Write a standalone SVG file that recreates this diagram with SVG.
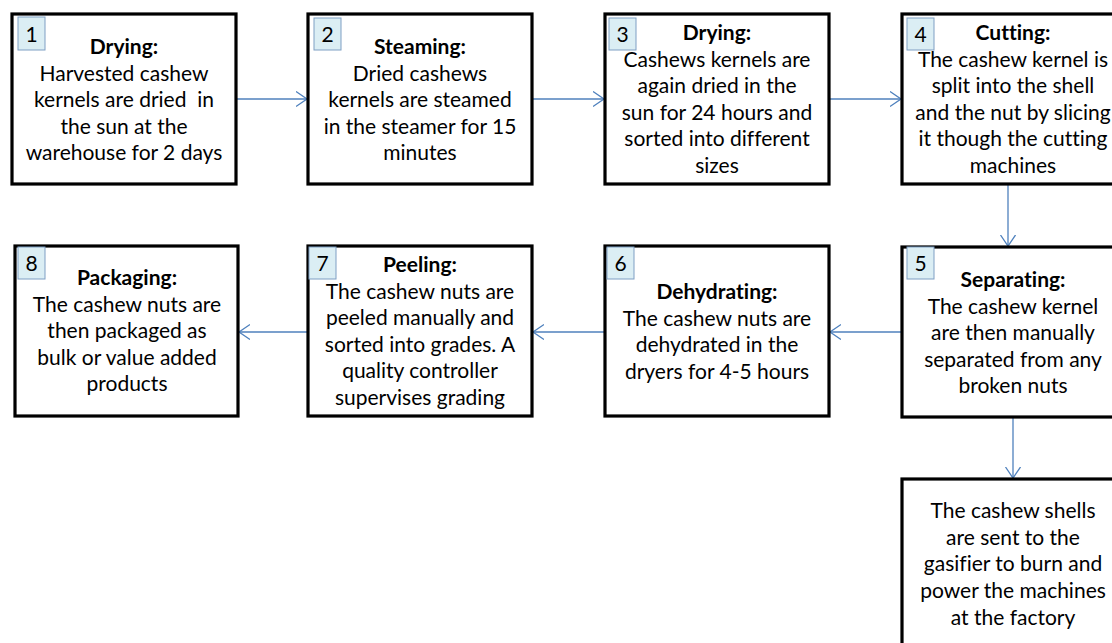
<svg xmlns="http://www.w3.org/2000/svg" width="1112" height="643" viewBox="0 0 1112 643">
<defs>
<marker id="ah" markerUnits="userSpaceOnUse" markerWidth="14" markerHeight="18" refX="11" refY="8" orient="auto">
<path d="M0,0.5 L11,8 L0,15.5" fill="none" stroke="#4F81BD" stroke-width="1.3"/>
</marker>
<style>
.box{fill:#fff;stroke:#000;stroke-width:3.2}
.num{fill:#DBEEF4;stroke:#7F9FC4;stroke-width:1}
.n{font-family:Lato,"Liberation Sans",sans-serif;font-size:21px;fill:#000;text-anchor:middle}
.t{font-family:Lato,"Liberation Sans",sans-serif;font-size:21px;fill:#000;text-anchor:middle;font-variant-ligatures:none;font-feature-settings:"liga" 0,"dlig" 0,"clig" 0}
.b{font-weight:bold}
.c{fill:none;stroke:#4F81BD;stroke-width:1.3;marker-end:url(#ah)}
</style>
</defs>
<rect width="1112" height="643" fill="#fff"/>
<g id="connectors">
<line class="c" x1="236" y1="99" x2="307" y2="99"/>
<line class="c" x1="532" y1="99" x2="604" y2="99"/>
<line class="c" x1="829" y1="99" x2="901" y2="99"/>
<line class="c" x1="1008" y1="184" x2="1008" y2="246"/>
<line class="c" x1="902" y1="332" x2="830" y2="332"/>
<line class="c" x1="605" y1="332" x2="533" y2="332"/>
<line class="c" x1="308" y1="332" x2="239" y2="332"/>
<line class="c" x1="1013" y1="417" x2="1013" y2="478"/>
</g>
<g id="node1">
<rect class="box" x="12" y="14" width="224" height="170"/>
<rect class="num" x="18" y="17" width="27" height="33"/>
<text class="n" x="31.5" y="42">1</text>
<text class="t"><tspan class="b" x="124" y="54">Drying:</tspan><tspan x="124" y="80.5">Harvested cashew</tspan><tspan x="124" y="107" xml:space="preserve">kernels are dried  in</tspan><tspan x="124" y="133.5">the sun at the</tspan><tspan x="124" y="160">warehouse for 2 days</tspan></text>
</g>
<g id="node2">
<rect class="box" x="308" y="14" width="224" height="170"/>
<rect class="num" x="314" y="18" width="27" height="32"/>
<text class="n" x="327.5" y="42">2</text>
<text class="t"><tspan class="b" x="420" y="54">Steaming:</tspan><tspan x="420" y="80.5">Dried cashews</tspan><tspan x="420" y="107">kernels are steamed</tspan><tspan x="420" y="133.5">in the steamer for 15</tspan><tspan x="420" y="160">minutes</tspan></text>
</g>
<g id="node3">
<rect class="box" x="605" y="14" width="224" height="170"/>
<rect class="num" x="609" y="18" width="27" height="32"/>
<text class="n" x="622.5" y="42">3</text>
<text class="t"><tspan class="b" x="717" y="40">Drying:</tspan><tspan x="717" y="66.6">Cashews kernels are</tspan><tspan x="717" y="93.2">again dried in the</tspan><tspan x="717" y="119.8">sun for 24 hours and</tspan><tspan x="717" y="146.4">sorted into different</tspan><tspan x="717" y="173">sizes</tspan></text>
</g>
<g id="node4">
<rect class="box" x="902" y="14" width="224" height="170"/>
<rect class="num" x="907" y="18" width="27" height="32"/>
<text class="n" x="920.5" y="42">4</text>
<text class="t"><tspan class="b" x="1013" y="40">Cutting:</tspan><tspan x="1013" y="66.6">The cashew kernel is</tspan><tspan x="1013" y="93.2">split into the shell</tspan><tspan x="1013" y="119.8">and the nut by slicing</tspan><tspan x="1013" y="146.4">it though the cutting</tspan><tspan x="1013" y="173">machines</tspan></text>
</g>
<g id="node5">
<rect class="box" x="902" y="247" width="224" height="170"/>
<rect class="num" x="907" y="247" width="27" height="32"/>
<text class="n" x="920.5" y="271">5</text>
<text class="t"><tspan class="b" x="1013" y="287">Separating:</tspan><tspan x="1013" y="313.5">The cashew kernel</tspan><tspan x="1013" y="340">are then manually</tspan><tspan x="1013" y="366.5">separated from any</tspan><tspan x="1013" y="393">broken nuts</tspan></text>
</g>
<g id="node6">
<rect class="box" x="605" y="246" width="224" height="170"/>
<rect class="num" x="607" y="247" width="27" height="32"/>
<text class="n" x="620.5" y="271">6</text>
<text class="t"><tspan class="b" x="717" y="299">Dehydrating:</tspan><tspan x="717" y="325.5">The cashew nuts are</tspan><tspan x="717" y="352">dehydrated in the</tspan><tspan x="717" y="378.5">dryers for 4-5 hours</tspan></text>
</g>
<g id="node7">
<rect class="box" x="308" y="246" width="224" height="170"/>
<rect class="num" x="309" y="247" width="27" height="32"/>
<text class="n" x="322.5" y="271">7</text>
<text class="t"><tspan class="b" x="420" y="272">Peeling:</tspan><tspan x="420" y="298.6">The cashew nuts are</tspan><tspan x="420" y="325.2">peeled manually and</tspan><tspan x="420" y="351.8">sorted into grades. A</tspan><tspan x="420" y="378.4">quality controller</tspan><tspan x="420" y="405">supervises grading</tspan></text>
</g>
<g id="node8">
<rect class="box" x="15" y="246" width="223" height="170"/>
<rect class="num" x="18" y="247" width="27" height="32"/>
<text class="n" x="31.5" y="271">8</text>
<text class="t"><tspan class="b" x="127" y="285">Packaging:</tspan><tspan x="127" y="311.5">The cashew nuts are</tspan><tspan x="127" y="338">then packaged as</tspan><tspan x="127" y="364.5">bulk or value added</tspan><tspan x="127" y="391">products</tspan></text>
</g>
<g id="node9">
<rect class="box" x="902" y="479" width="224" height="175"/>
<text class="t"><tspan x="1013" y="518">The cashew shells</tspan><tspan x="1013" y="544.7">are sent to the</tspan><tspan x="1013" y="571.3">gasifier to burn and</tspan><tspan x="1013" y="598">power the machines</tspan><tspan x="1013" y="625">at the factory</tspan></text>
</g>
</svg>
